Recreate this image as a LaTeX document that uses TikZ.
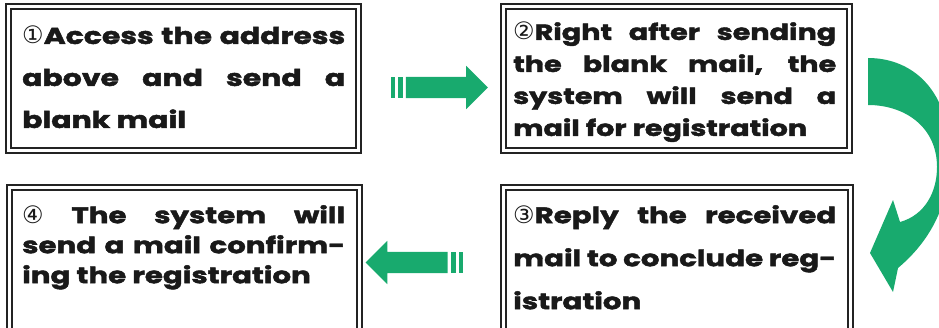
\documentclass[tikz,border=0pt]{standalone}
\usepackage{fontspec}
\usepackage{tikz}
\usetikzlibrary{shapes.arrows, positioning}
\newfontfamily\stepfont{Poppins}[FakeStretch=1.3, FakeBold=2]
\newfontfamily\numfont{DejaVu Sans}
\definecolor{flowgreen}{RGB}{24,170,110}
\definecolor{framegray}{RGB}{35,35,35}
\newcommand{\stepnum}[1]{{\numfont\mdseries\fontsize{24}{24}\selectfont #1}}

\begin{document}
\begin{tikzpicture}[
  x=1pt, y=1pt,
  framebox/.style={draw=framegray, double, double distance=3.4pt,
                   line width=1.8pt, inner sep=0pt},
  steptext/.style={anchor=north west, text width=323pt, align=justify,
                   inner sep=0pt, text=black!90},
  flatarrow/.style={single arrow, fill=flowgreen, inner sep=0pt,
                    text height=10.5pt, text depth=10.5pt,
                    single arrow head extend=11pt, minimum height=82pt}
]
  \useasboundingbox (0,0) rectangle (939,327);
  \clip (0,0) rectangle (939,327);

  % frames
  \node[framebox, minimum width=350pt, minimum height=144pt] (frame1) at (183.5,248.5) {};
  \node[framebox, minimum width=346pt, minimum height=144pt] (frame2) at (676.5,248.5) {};
  \node[framebox, minimum width=347pt, minimum height=160pt] (frame3) at (677,59.5) {};
  \node[framebox, minimum width=350pt, minimum height=160pt] (frame4) at (184.5,59.5) {};

  % texts
  \node[steptext, font=\stepfont\bfseries\fontsize{23}{42}\selectfont] (text1) at (22,301)
    {\noindent\stepnum{①}Access the address\linebreak above and send a\linebreak blank mail};
  \node[steptext, font=\stepfont\bfseries\fontsize{22}{32}\selectfont] (text2) at (513,305)
    {\noindent\stepnum{②}Right after sending\linebreak the blank mail, the\linebreak
     system will send a\linebreak mail for registration};
  \node[steptext, font=\stepfont\bfseries\fontsize{22.5}{43}\selectfont] (text3) at (513,122)
    {\noindent\stepnum{③}Reply the received\linebreak mail to conclude reg-\linebreak istration};
  \node[steptext, font=\stepfont\bfseries\fontsize{22.5}{30}\selectfont] (text4) at (22,122)
    {\noindent\stepnum{④} The system will\linebreak send a mail confirm-\linebreak
     ing the registration};

  % arrows
  \node[flatarrow] (next12) at (441.5,239.5) {};
  \fill[flowgreen] ([xshift=-15pt, yshift=-10.5pt]next12.tail) rectangle ++(4,21);
  \fill[flowgreen] ([xshift=-8pt, yshift=-10.5pt]next12.tail) rectangle ++(5,21);

  \node[flatarrow, shape border rotate=180] (next34) at (412,64.5) {};
  \fill[flowgreen] ([xshift=3pt, yshift=-10.5pt]next34.tail) rectangle ++(5,21);
  \fill[flowgreen] ([xshift=11pt, yshift=-10.5pt]next34.tail) rectangle ++(4,21);

  % turn from step 2 down to step 3
  \fill[flowgreen] (868,269) .. controls (910,269) and (948,240) .. (950,175)
    .. controls (951,130) and (935,90) .. (898,59)
    -- (893,35) -- (870,74) -- (893,127) -- (900,105)
    .. controls (925,112) and (937,135) .. (937,160)
    .. controls (937,200) and (905,222) .. (868,222) -- cycle;

\end{tikzpicture}
\end{document}
